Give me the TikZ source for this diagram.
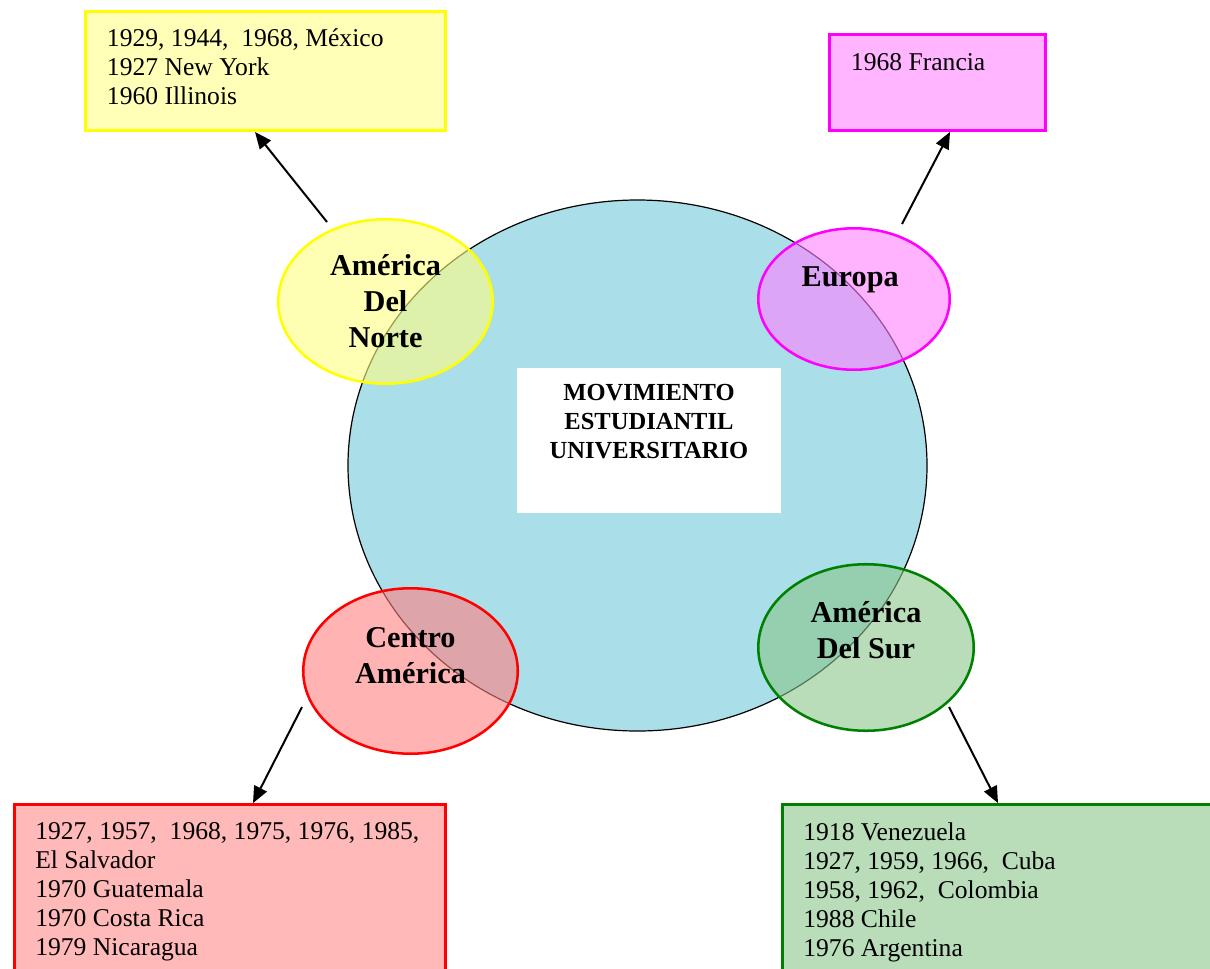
\documentclass[tikz,border=0pt]{standalone}
\usepackage{fontspec}
\setmainfont{Liberation Serif}
\usetikzlibrary{shapes, arrows, arrows.meta, calc, positioning}

\definecolor{agua}{RGB}{170,222,233}
\definecolor{bordeamarillo}{RGB}{255,255,0}
\definecolor{fondoamarillo}{RGB}{255,255,184}
\definecolor{bordemagenta}{RGB}{255,0,255}
\definecolor{fondomagenta}{RGB}{255,181,255}
\definecolor{bordeverde}{RGB}{0,128,0}
\definecolor{fondoverde}{RGB}{185,220,185}
\definecolor{fondorojo}{RGB}{255,185,185}

\begin{document}
\begin{tikzpicture}[x=0.75pt, y=-0.75pt,
    caja/.style={draw, line width=2.2pt, inner sep=0pt},
    lista/.style={inner sep=0pt, align=left, font=\fontsize{19.2}{21.75}\selectfont},
    region/.style={ellipse, draw, line width=1.9pt, inner sep=0pt, fill opacity=0.6},
    rotulo/.style={inner sep=0pt, align=center, font=\bfseries\fontsize{22.7}{27}\selectfont},
    flecha/.style={-{Triangle[length=12.5pt, width=10.5pt]}, line width=1.5pt}]
        \path [use as bounding box, clip] (0,0) rectangle (1210,968);

        % centro
        \node [ellipse, draw, fill=agua, line width=0.9pt, minimum width=434.25pt, minimum height=398.25pt] (mundo) at (637.5,465.5) {};
        \node [fill=white, minimum width=198pt, minimum height=108.75pt] (cuadro) at (649,440.5) {};
        \node [below=12pt of cuadro.north, inner sep=0pt, align=center, font=\bfseries\fontsize{18.4}{22}\selectfont] (titulo) { MOVIMIENTO\\ESTUDIANTIL\\UNIVERSITARIO };

        % regiones
        \node [region, draw=bordeamarillo, fill=bordeamarillo!50!white, minimum width=160.9pt, minimum height=123.4pt] (norte) at (385.5,301.5) {};
        \node [region, draw=bordemagenta, fill={rgb,255:red,255;green,128;blue,255}, minimum width=143.6pt, minimum height=106.1pt] (europa) at (854,299) {};
        \node [region, draw=red, fill={rgb,255:red,255;green,128;blue,128}, minimum width=160.9pt, minimum height=124.1pt] (centro) at (410.5,671) {};
        \node [region, draw=bordeverde, fill={rgb,255:red,138;green,197;blue,138}, minimum width=161.6pt, minimum height=124.9pt] (sur) at (866,647.5) {};
        \node [rotulo] (tnorte) at (norte) { América\\Del\\Norte };
        \node [rotulo, yshift=14.6pt] (teuropa) at (europa) { Europa };
        \node [rotulo, yshift=11.6pt] (tcentro) at (centro) { Centro\\América };
        \node [rotulo, yshift=13.1pt] (tsur) at (sur) { América\\Del Sur };

        % cajas
        \node [caja, draw=bordeamarillo, fill=fondoamarillo, minimum width=270pt, minimum height=89.25pt] (nortebox) at (265.5,71) {};
        \node [lista, below right=13.5pt and 17pt of nortebox.north west] { 1929, 1944,\ \ 1968, México\\1927 New York\\1960 Illinois };
        \node [caja, draw=bordemagenta, fill=fondomagenta, minimum width=162pt, minimum height=72pt] (europabox) at (937.5,82.5) {};
        \node [lista, below right=15pt and 17pt of europabox.north west] { 1968 Francia };
        \node [caja, draw=red, fill=fondorojo, minimum width=323.25pt, minimum height=139pt] (centrobox) at (230,897.25) {};
        \node [lista, below right=14pt and 16.5pt of centrobox.north west] { 1927, 1957,\ \ 1968, 1975, 1976, 1985,\\El Salvador\\1970 Guatemala\\1970 Costa Rica\\1979 Nicaragua };
        \node [caja, draw=bordeverde, fill=fondoverde, minimum width=343pt, minimum height=139pt] (surbox) at (1011.25,897.25) {};
        \node [lista, below right=14.5pt and 16.5pt of surbox.north west] { 1918 Venezuela\\1927, 1959, 1966,\ \ Cuba\\1958, 1962,\ \ Colombia\\1988 Chile\\1976 Argentina };

        \draw [flecha] ($(norte)+(-58.5,-79.5)$) -- ($(nortebox.south)+(-10.5,0)$);
        \draw [flecha] ($(europa)+(48,-75)$) -- ($(europabox.south)+(12.5,0)$);
        \draw [flecha] ($(centro)+(-108.5,36)$) -- ($(centrobox.north)+(23,0)$);
        \draw [flecha] ($(sur)+(83,59.5)$) -- ($(surbox.north)+(-13.25,0)$);
\end{tikzpicture}
\end{document}
